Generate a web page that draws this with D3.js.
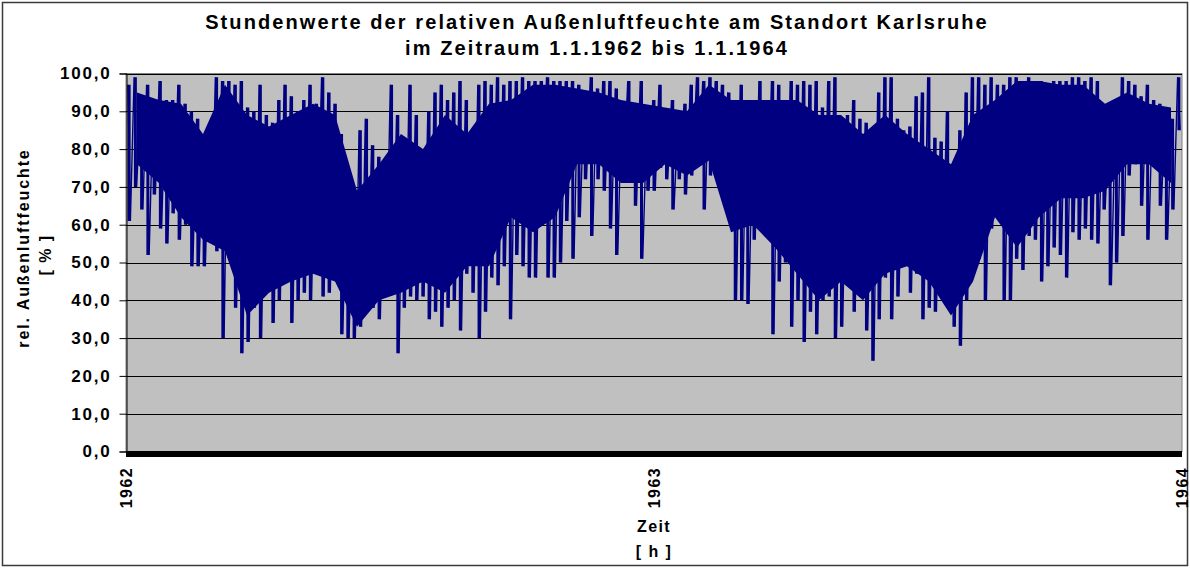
<!DOCTYPE html>
<html lang="de">
<head>
<meta charset="UTF-8">
<script src="https://cdn.jsdelivr.net/npm/d3@7"></script>
<title>Stundenwerte rel. Außenluftfeuchte Karlsruhe</title>
<style>
  body { margin: 0; background: #fff; }
  text { font-family: "Liberation Sans", Arial, sans-serif; font-weight: bold; fill: #000; }
</style>
</head>
<body>
<div id="chart"></div>
<script>
// Blöcke von ca. 104 Stunden (1.1.1962 - 1.1.1964), Maximum und Minimum der rel. Feuchte [%]
var hiValues = [
  97,99,91,97,90,98,93,93,97,92,90,88,82,85,99,98,98,97,98,91,90,97,89,87,93,97,94,90,
  93,97,92,99,95,92,84,74,69,85,88,81,78,77,97,89,83,97,89,79,90,95,97,93,95,98,93,85,
  97,98,97,99,97,98,98,99,98,98,98,99,98,98,98,98,97,94,99,96,98,98,96,91,98,92,98,85,
  93,97,82,93,86,92,97,99,98,99,98,97,95,92,97,93,85,98,89,98,97,93,98,97,98,97,98,91,
  98,99,82,89,93,88,87,76,95,99,99,88,85,86,94,95,99,83,82,90,75,85,95,99,99,97,99,97,
  97,99,99,98,99,98,98,92,98,98,98,99,99,98,99,98,91,87,87,99,98,97,94,97,93,92,91,88,99
];
var loValues = [
  61,70,64,52,68,59,55,63,56,60,49,49,49,58,53,30,52,38,26,29,38,30,42,34,40,46,34,40,
  42,40,60,41,42,49,31,30,30,33,40,38,35,47,45,26,38,41,40,41,35,37,33,38,40,32,47,42,
  30,37,46,44,49,35,52,49,46,46,60,46,46,50,61,51,62,72,57,72,69,59,52,75,72,65,51,69,
  69,75,72,64,72,68,73,76,64,73,76,71,63,40,40,39,56,60,58,31,45,50,33,40,29,37,31,40,
  41,30,33,49,37,45,32,24,35,46,35,41,49,42,47,35,38,37,41,38,33,28,40,49,51,40,59,67,
  40,40,51,48,57,56,45,49,54,52,46,58,56,59,56,55,64,44,50,57,73,76,65,56,76,65,56,64,85
];
// dichter Kern der Werte je Halbmonat (obere / untere Grenze)
var coreHi = [95,93,92,84,97,89,86,89, 92,89,69,76,84,80,89,84, 92,93,97,97,96,95,93,92,
              91,90,97,93,93,93,93,89, 89,84,89,84,80,76,89,93, 98,98,97,97,92,95,92,91];
var coreLo = [76,71,62,56,53,36,42,45, 47,45,33,40,42,45,42,49, 49,62,58,62,76,76,71,71,
              76,73,77,58,60,54,47,40, 45,40,47,49,45,36,45,62, 54,62,67,67,69,76,76,71];
var yTicks = [0, 10, 20, 30, 40, 50, 60, 70, 80, 90, 100];
var xYears = [1962, 1963, 1964];
var titleLines = ["Stundenwerte der relativen Außenluftfeuchte am Standort Karlsruhe",
                  "im Zeitraum 1.1.1962 bis 1.1.1964"];

var width = 1190, height = 568;
var plot = {left: 126, right: 1182, top: 73.5, bottom: 451.5};
var navy = "#000080";

var svg = d3.select("#chart").append("svg")
    .attr("width", width)
    .attr("height", height);

// Rahmen des Diagramms
svg.append("rect")
    .attr("x", 2.5).attr("y", 2.5)
    .attr("width", width - 5).attr("height", height - 5)
    .attr("fill", "#fff")
    .attr("stroke", "#3a3a3a")
    .attr("stroke-width", 1.5);

var start = new Date(Date.UTC(1962, 0, 1));
var end = new Date(Date.UTC(1964, 0, 1));

var x = d3.scaleUtc().domain([start, end]).range([plot.left, plot.right]);
var y = d3.scaleLinear().domain([0, 100]).range([plot.bottom, plot.top]);

// Zeichenfläche
svg.append("rect")
    .attr("x", plot.left).attr("y", plot.top)
    .attr("width", plot.right - plot.left).attr("height", plot.bottom - plot.top)
    .attr("fill", "#c0c0c0")
    .attr("stroke", "#808080");

svg.append("g").selectAll("line")
    .data(yTicks.filter(d => d > 0))
    .enter().append("line")
    .attr("x1", plot.left).attr("x2", plot.right)
    .attr("y1", d => Math.round(y(d)) + 0.5).attr("y2", d => Math.round(y(d)) + 0.5)
    .attr("stroke", "#000");

svg.append("defs").append("clipPath").attr("id", "clip")
  .append("rect")
    .attr("x", plot.left).attr("y", plot.top)
    .attr("width", plot.right - plot.left).attr("height", plot.bottom - plot.top);

var series = svg.append("g").attr("clip-path", "url(#clip)");

// Kernband
var coreSpan = (end - start) / coreHi.length;
var core = coreHi.map((h, k) => ({t: new Date(+start + (k + 0.5) * coreSpan), hi: h, lo: coreLo[k]}));
series.append("path")
    .datum(core)
    .attr("fill", navy)
    .attr("d", d3.area()
        .x(d => x(d.t))
        .y1(d => y(d.hi))
        .y0(d => y(d.lo)));

// Messreihe: je Block Maximum und Minimum
var span = (end - start) / hiValues.length;
var blocks = hiValues.map((h, i) => ({
    tHi: new Date(+start + (i + 0.3) * span),
    tLo: new Date(+start + (i + 0.7) * span),
    hi: h,
    lo: loValues[i]
}));

series.selectAll("line.range")
    .data(blocks)
    .enter().append("line")
    .attr("class", "range")
    .attr("x1", d => (x(d.tHi) + x(d.tLo)) / 2)
    .attr("x2", d => (x(d.tHi) + x(d.tLo)) / 2)
    .attr("y1", d => y(d.hi))
    .attr("y2", d => y(d.lo))
    .attr("stroke", navy)
    .attr("stroke-width", 3);

var points = [];
blocks.forEach(b => {
    points.push([b.tHi, b.hi]);
    points.push([b.tLo, b.lo]);
});
series.append("path")
    .datum(points)
    .attr("fill", "none")
    .attr("stroke", navy)
    .attr("stroke-width", 1.4)
    .attr("d", d3.line().x(d => x(d[0])).y(d => y(d[1])));

// dicke Nulllinie
svg.append("rect")
    .attr("x", plot.left).attr("y", y(0) - 0.5)
    .attr("width", plot.right - plot.left).attr("height", 6)
    .attr("fill", "#000");

// y-Achse
var yAxis = d3.axisLeft(y)
    .tickValues(yTicks)
    .tickSize(7)
    .tickPadding(8)
    .tickFormat(d => d3.format(".1f")(d).replace(".", ","));

var gy = svg.append("g")
    .attr("transform", "translate(" + (plot.left + 0.5) + ",0)")
    .call(yAxis);
gy.select(".domain").attr("stroke", "#000");
gy.selectAll(".tick line").attr("stroke", "#000");
gy.selectAll(".tick text")
    .style("font-size", "17px")
    .style("letter-spacing", "1.8px")
    .attr("fill", "#000");

// x-Achse: Jahre
svg.append("g").selectAll("text")
    .data(xYears)
    .enter().append("text")
    .attr("transform", d => "translate(" + (x(new Date(Date.UTC(d, 0, 1))) + 6) + ",467) rotate(-90)")
    .attr("text-anchor", "end")
    .style("font-size", "16px")
    .style("letter-spacing", "1.4px")
    .text(d => d);

// Titel
svg.append("g").selectAll("text")
    .data(titleLines)
    .enter().append("text")
    .attr("x", 597)
    .attr("y", (d, i) => 29 + i * 26)
    .attr("text-anchor", "middle")
    .style("font-size", "20px")
    .style("letter-spacing", "2.1px")
    .text(d => d);

// Achsentitel
var xMid = x(new Date(Date.UTC(1963, 0, 1)));
svg.append("text")
    .attr("x", xMid).attr("y", 532)
    .attr("text-anchor", "middle")
    .style("font-size", "16px")
    .style("letter-spacing", "1.4px")
    .text("Zeit");
svg.append("text")
    .attr("x", xMid).attr("y", 557)
    .attr("text-anchor", "middle")
    .style("font-size", "16px")
    .style("letter-spacing", "1.4px")
    .text("[ h ]");

svg.append("text")
    .attr("transform", "translate(29,248) rotate(-90)")
    .attr("text-anchor", "middle")
    .style("font-size", "16px")
    .style("letter-spacing", "1.9px")
    .text("rel. Außenluftfeuchte");
svg.append("text")
    .attr("transform", "translate(51,255) rotate(-90)")
    .attr("text-anchor", "middle")
    .style("font-size", "16px")
    .style("letter-spacing", "1.4px")
    .text("[ % ]");
</script>
</body>
</html>
